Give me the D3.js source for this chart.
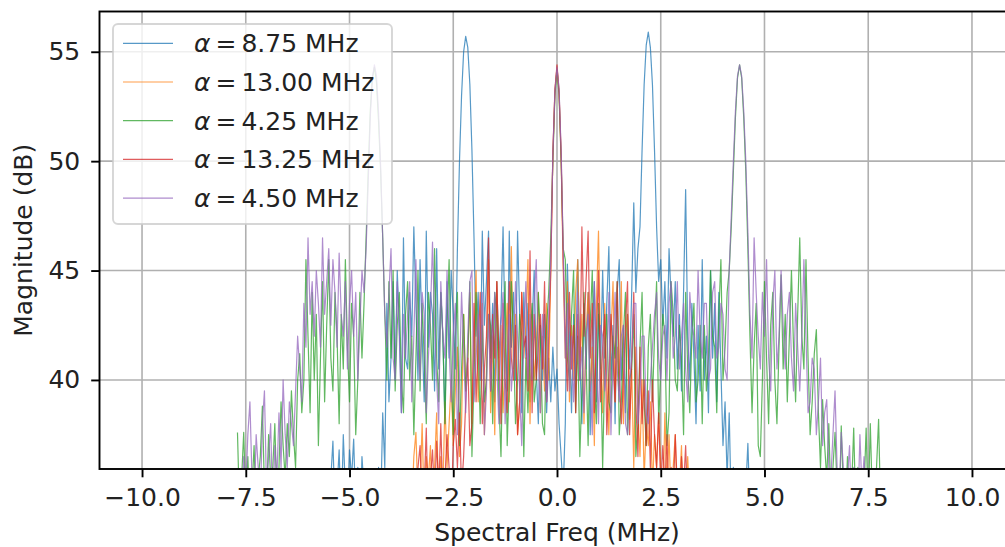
<!DOCTYPE html>
<html>
<head>
<meta charset="utf-8">
<script src="https://cdn.jsdelivr.net/npm/d3@7"></script>
<style>
  body { margin: 0; background: #fff; }
  text { font-family: "DejaVu Sans", sans-serif; }
</style>
</head>
<body>
<script>
"use strict"

// cycle frequencies (legend) and first frequency bin of each trace, 0.05 MHz step
var alphas = ["8.75", "13.00", "4.25", "13.25", "4.50"];
var colors = ["#1f77b4", "#ff7f0e", "#2ca02c", "#d62728", "#9467bd"];
var starts = [-5.5, -3.5, -7.7, -3.4, -7.6];
var step = 0.05;

var xTicks = [-10, -7.5, -5, -2.5, 0, 2.5, 5, 7.5, 10];
var yTicks = [40, 45, 50, 55];

// magnitude (dB) per trace, one row = 1 MHz
var mag875 = [
  33, 35.5, 37.2, 34, 35, 36.8, 33.5, 37.5, 35, 34, 36.8, 35.5, 37.3, 34, 36, 33, 36.5, 35, 34, 35.5,
  34, 33, 35, 34, 36, 34, 38.5, 36, 43.5, 39, 41, 44.5, 40, 45, 42.5, 38.5, 46.5, 41, 40.5, 44,
  42, 47, 43.5, 40, 45.5, 42, 39, 46.8, 41.5, 44, 43, 39.5, 46, 40.5, 44, 42, 38, 44.5, 41, 45,
  43, 40.5, 46, 50, 53, 55, 55.7, 55.2, 53.5, 50.5, 46.5, 42, 44, 40, 46.8, 42.5, 44.5, 46.8, 41, 43.5,
  39, 44.5, 41, 43, 47, 42, 39.5, 46.8, 41.5, 44, 40, 46.8, 43, 38.5, 44, 41, 43.5, 39, 42.5, 45,
  40.5, 38, 42.5, 40, 43, 38.5, 41, 39, 41.5, 39.5, 40.5, 38, 36.5, 35, 38, 45.3, 42, 38.5, 43, 40,
  45.5, 41, 38, 43.5, 40.5, 44, 37.5, 42, 44.5, 39, 43, 40.5, 45, 41, 43.5, 46.1, 40, 42.5, 38, 44,
  45.5, 40, 42.5, 38.5, 43, 40.5, 44, 48.1, 44, 46, 47, 50.5, 53.5, 55.3, 55.9, 55.2, 53.5, 50.5, 47, 44.5,
  45.5, 42.5, 44.5, 41, 46, 43.7, 42, 44.5, 40.5, 43, 39.5, 44, 48.7, 42, 40, 43.5, 41, 38, 42.5, 39.5,
  45.5, 40, 42, 38.5, 45, 41, 43.5, 39, 44, 40.5, 37, 39, 35.5, 38.5, 34, 36, 33, 35, 33, 34,
  33, 35, 37.1, 34, 33, 35.5, 34
];
var mag1300 = [
  34, 36.5, 37.6, 34.5, 35, 38, 34, 36.5, 35.5, 37, 33.5, 36, 38.5, 34, 36.5, 35, 39, 36, 38, 40,
  37, 39.5, 41.5, 36.5, 38, 43, 39.5, 41, 44, 38, 42, 45, 39, 41.5, 43.5, 37.5, 40.5, 45.5, 38.5, 42,
  37.5, 44.5, 40, 42.5, 38.5, 41, 43.5, 39, 46.1, 40.5, 43, 37.5, 39, 44, 41, 42.5, 45.5, 38, 43, 40,
  41.5, 44, 38.5, 42, 39.5, 43.5, 40, 45, 50.2, 53.2, 54.3, 53.1, 50.1, 45, 41, 44.5, 39, 42.5, 40, 44,
  45.5, 40.5, 43, 38, 42, 44, 39.5, 41.5, 37, 43.5, 46.8, 41, 38.5, 43.5, 40, 37.5, 42, 44.5, 39, 41.5,
  39.5, 44.5, 38, 42, 43, 38.2, 40.5, 36, 41.5, 38.5, 36.5, 40, 35.5, 38, 37, 39, 35, 37.5, 36, 38.5,
  36, 34, 38.5, 35, 37.5, 34.5, 36, 37.5, 34, 35, 37, 33.5, 34, 36.5, 34
];
var mag425 = [
  37.6, 34, 35.5, 37.6, 34.5, 36.5, 33.5, 35, 37, 34, 35.5, 36.5, 38.8, 35, 34.5, 37.5, 35.5, 36, 38, 34.5,
  36, 39, 37, 35.5, 38, 36.5, 39.5, 37.5, 36, 40, 41.2, 38.5, 40, 45.5, 42, 38.5, 44, 40, 43, 37,
  41, 44.5, 39, 42.5, 45.5, 41, 39.5, 44, 42, 38, 43, 40.5, 45.5, 41.5, 39, 43.5, 42, 37.5, 40, 44,
  41, 43.5, 46.5, 49.5, 52.3, 53.8, 54.3, 53.6, 51.8, 49.5, 46.5, 43, 40, 44.5, 41, 45, 39.5, 42.5, 44, 40,
  38.5, 43, 44.5, 40, 42, 37.5, 41, 45, 39.5, 43.5, 41, 38, 44, 42.5, 40, 46, 41, 39, 44, 42,
  38, 42.5, 45.5, 40.5, 37.5, 42, 44, 37, 40.5, 43, 39.5, 41, 44.5, 36.5, 40, 44, 41.5, 38, 42.5, 39,
  40, 43, 42.5, 38, 44, 43, 39, 36.5, 41.5, 44.5, 37, 40, 44.5, 42, 38, 40, 43, 42, 36.5, 41,
  38.5, 42, 43.5, 39, 40, 44, 42, 38, 37.5, 42.5, 44, 46.5, 50, 53, 54.2, 53, 50, 46, 45.5, 41,
  40, 43, 45, 38.5, 42, 36.5, 39.5, 44, 41, 37, 42.5, 45, 40, 38, 43.5, 41, 36, 40.5, 43, 39,
  38.5, 42, 41, 44.5, 37.5, 39, 42, 44, 37.5, 40, 40.5, 43, 36.5, 38, 41.5, 44, 39, 37, 41.5, 43,
  39, 42, 44.5, 38, 40.5, 43, 42, 37, 38.5, 44.5, 43, 40, 39.5, 42.5, 41, 37.5, 44, 40.5, 38.5, 42,
  43.5, 39, 40, 42.5, 38, 42.5, 39.5, 41, 45, 42, 41.5, 38.5, 43, 45.5, 40, 41.5, 44, 45, 47, 49.5,
  52, 53.8, 54.4, 53.8, 52, 49.5, 46, 42, 38.5, 41.5, 43.5, 37, 36.5, 40, 44.5, 41, 38, 42.5, 44, 40,
  38, 41.5, 44.8, 40.5, 43, 39, 42, 45, 41.5, 39, 43, 46.5, 42, 40.5, 45.5, 41, 37.5, 39, 41.2, 42.3,
  38.5, 36, 39.1, 37, 35.5, 38, 34.5, 36, 37.6, 35, 33.5, 37.9, 35, 34, 36.5, 33.5, 35, 37.8, 34, 36,
  35, 33.5, 35, 37.8, 34, 38, 34.5, 33.5, 36, 38.2, 34
];
var mag1325 = [
  34, 36, 37, 34.5, 35, 37.8, 33.5, 35.5, 36.8, 34.5, 37.2, 35, 38, 34.5, 35.5, 37.5, 36, 34, 37, 38.2,
  36, 38.5, 35, 36.5, 39, 41, 37, 38, 43.5, 39, 41.5, 44, 38, 40.5, 42, 46.5, 39.5, 43, 41, 44.5,
  41, 38, 43.5, 40, 38.5, 44.5, 41, 40, 42.5, 37.5, 39, 44, 41.5, 42, 39.5, 45.9, 38.5, 43, 40, 41.5,
  43, 40.5, 44.5, 39, 42, 45, 50.4, 53.3, 54.4, 53.2, 50.3, 45.5, 42, 39.5, 44, 40.5, 42.5, 38.5, 43, 40,
  47, 42, 44.5, 46.8, 41, 43.5, 38.5, 42, 45, 39, 41.5, 43, 37.5, 40, 43, 41, 39, 44.5, 40.5, 38,
  40, 42.5, 44.5, 37.5, 41, 44, 39, 36.5, 41.5, 38, 40, 37, 39.5, 36, 40, 37.5, 36, 38.5, 35, 37,
  35, 37.5, 34, 36, 34.5, 37.5, 35, 33.5, 36.5, 35, 37, 34, 35.5, 33.5, 35.5
];
var mag450 = [
  34, 36.5, 35, 37.5, 39, 35.5, 34, 37.5, 36, 34.5, 38, 39.5, 35, 36.5, 38, 34, 37, 35.5, 38.5, 36,
  40, 37.5, 36, 39, 38, 37, 39.5, 42, 40.5, 39, 43.5, 41.5, 46.5, 43, 44.5, 42, 45, 43.5, 41.5, 46.5,
  43, 44.5, 46, 42.5, 45.5, 44, 41.5, 45.8, 43, 42, 44.5, 40.5, 43.5, 45, 42, 44, 40, 42.5, 45, 44,
  46, 49, 52, 53.8, 54.4, 53.9, 52.2, 49.8, 46.5, 43, 41.5, 44, 46, 41, 40, 44.5, 42, 38.5, 43, 41,
  43, 44.5, 39, 42, 45.5, 41.5, 40, 44, 43, 38.5, 41, 43, 46.3, 42.5, 40, 38, 44.5, 42, 41, 45,
  41.5, 39, 42, 43.5, 37.5, 40, 44, 41.5, 38.5, 42, 44.5, 45, 39, 41, 43, 40, 44, 37.5, 39.5, 43,
  39.5, 42, 44, 40.5, 38, 42.5, 44, 38, 41, 43, 39.5, 41, 44.5, 42, 39.5, 37, 42, 44.5, 40, 43,
  40, 43.5, 45.5, 41, 38.5, 43, 40.5, 39, 43, 45.5, 50.3, 53.2, 54.3, 53.3, 50.5, 46, 41, 43.5, 39.5, 42,
  39, 41.5, 44, 40, 41.5, 38.5, 42, 43, 40, 37.5, 44.5, 41, 38, 42.5, 42, 39.5, 40.5, 44, 37.5, 41,
  44, 40.5, 39, 42, 42.5, 38, 37.5, 40, 41, 43.5, 43.5, 38, 39.5, 42, 42, 38.5, 38, 40, 41.5, 43,
  44, 41, 40, 42, 42.5, 40, 43.5, 44.5, 41, 42, 44.5, 40.5, 42, 43.5, 40.5, 39, 44, 42.5, 42, 41,
  45, 42, 41, 43.5, 43.5, 40, 40.5, 44, 44.5, 41, 41.5, 43.5, 43, 40.5, 40, 45, 47.5, 50, 52.3, 53.9,
  54.4, 53.9, 52.3, 50, 46.8, 43, 41, 46.5, 44, 42, 40.5, 44, 42, 45.5, 41, 39.5, 43.5, 45, 40.5, 42,
  45, 42.5, 40.5, 43, 44, 41, 39.5, 43.5, 41.5, 39.5, 42, 45.5, 42, 38.5, 39, 41, 40.5, 37.5, 39, 41,
  37, 38.5, 39.1, 36, 35.5, 37.5, 39.5, 36, 34.5, 37.6, 36, 34, 35.5, 37, 34, 36, 35.5, 34, 37.5, 35,
  36.5, 34, 35.5
];
var mags = [mag875, mag1300, mag425, mag1325, mag450];

var width = 1005, height = 547;
var plot = {left: 99.5, right: 1014.5, top: 11.5, bottom: 469};
var fontSize = "25px";

var svg = d3.select("body").append("svg")
    .attr("width", width)
    .attr("height", height);

var x = d3.scaleLinear().domain([-11.025, 11.025]).range([plot.left, plot.right]);
var y = d3.scaleLinear().domain([35.93, 56.84]).range([plot.bottom, plot.top]);

svg.append("defs").append("clipPath")
    .attr("id", "clip")
  .append("rect")
    .attr("x", plot.left)
    .attr("y", plot.top)
    .attr("width", plot.right - plot.left)
    .attr("height", plot.bottom - plot.top);

// grid
var grid = svg.append("g");
grid.selectAll(".gx").data(xTicks).enter().append("line")
    .attr("x1", function(d) { return x(d); })
    .attr("x2", function(d) { return x(d); })
    .attr("y1", plot.top)
    .attr("y2", plot.bottom)
    .attr("stroke", "#b0b0b0")
    .attr("stroke-width", 1.6);
grid.selectAll(".gy").data(yTicks).enter().append("line")
    .attr("x1", plot.left)
    .attr("x2", plot.right)
    .attr("y1", function(d) { return y(d); })
    .attr("y2", function(d) { return y(d); })
    .attr("stroke", "#b0b0b0")
    .attr("stroke-width", 1.6);

// traces
var line = d3.line()
    .x(function(d) { return x(d[0]); })
    .y(function(d) { return y(d[1]); });

var traces = svg.append("g").attr("clip-path", "url(#clip)");
mags.forEach(function(vals, k) {
    var pts = vals.map(function(v, i) {
        return [Math.round((starts[k] + i * step) * 100) / 100, v];
    });
    traces.append("path")
        .datum(pts)
        .attr("d", line)
        .attr("fill", "none")
        .attr("stroke", colors[k])
        .attr("stroke-opacity", 0.75)
        .attr("stroke-width", 1.2)
        .attr("stroke-linejoin", "round");
});

// axes
var xAxis = svg.append("g")
    .attr("transform", "translate(0," + plot.bottom + ")")
    .call(d3.axisBottom(x).tickValues(xTicks).tickFormat(d3.format(".1f")).tickSize(8.3).tickPadding(11).tickSizeOuter(0));
var yAxis = svg.append("g")
    .attr("transform", "translate(" + plot.left + ",0)")
    .call(d3.axisLeft(y).tickValues(yTicks).tickFormat(d3.format("d")).tickSize(8.3).tickPadding(11).tickSizeOuter(0));
[xAxis, yAxis].forEach(function(a) {
    a.select(".domain").remove();
    a.selectAll(".tick line").attr("stroke", "#000").attr("stroke-width", 1.9);
    a.selectAll(".tick text")
        .attr("fill", "#222")
        .style("font-size", fontSize)
        .style("font-family", "DejaVu Sans");
});

// spines
svg.append("rect")
    .attr("x", plot.left)
    .attr("y", plot.top)
    .attr("width", plot.right - plot.left)
    .attr("height", plot.bottom - plot.top)
    .attr("fill", "none")
    .attr("stroke", "#000")
    .attr("stroke-width", 1.9);

svg.append("text")
    .attr("x", (plot.left + plot.right) / 2)
    .attr("y", 541)
    .attr("text-anchor", "middle")
    .attr("font-size", fontSize)
    .attr("fill", "#222")
    .text("Spectral Freq (MHz)");

svg.append("text")
    .attr("transform", "translate(32," + (plot.top + plot.bottom) / 2 + ") rotate(-90)")
    .attr("text-anchor", "middle")
    .attr("font-size", fontSize)
    .attr("fill", "#222")
    .text("Magnitude (dB)");

// legend
var legend = svg.append("g");
legend.append("rect")
    .attr("x", 113)
    .attr("y", 24)
    .attr("width", 279)
    .attr("height", 200)
    .attr("rx", 5)
    .attr("fill", "#fff")
    .attr("fill-opacity", 0.8)
    .attr("stroke", "#cccccc")
    .attr("stroke-opacity", 0.8)
    .attr("stroke-width", 1.9);

var rows = legend.selectAll(".row").data(alphas).enter().append("g")
    .attr("transform", function(d, i) { return "translate(0," + (43.3 + i * 38.7) + ")"; });
rows.append("line")
    .attr("x1", 123)
    .attr("x2", 173)
    .attr("stroke", function(d, i) { return colors[i]; })
    .attr("stroke-opacity", 0.75)
    .attr("stroke-width", 1.2);
var lt = rows.append("text")
    .attr("x", 194)
    .attr("y", 8.8)
    .attr("font-size", fontSize)
    .attr("fill", "#222");
lt.append("tspan").attr("font-style", "italic").text("α");
lt.append("tspan").attr("dx", 5).text("=");
lt.append("tspan").attr("dx", 5).text(function(d) { return d + " MHz"; });
</script>
</body>
</html>
